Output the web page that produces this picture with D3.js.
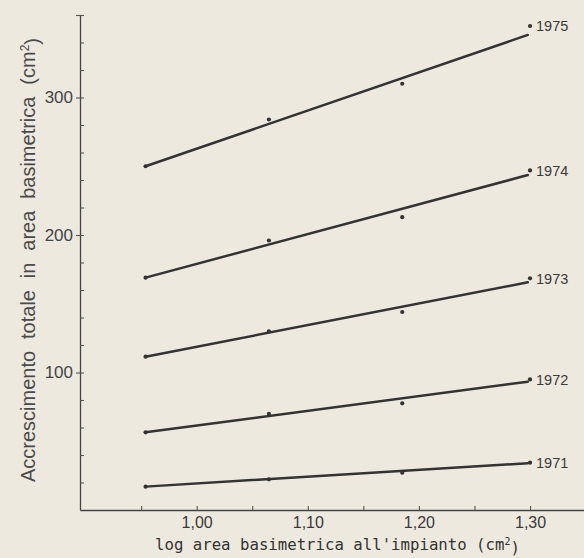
<!DOCTYPE html>
<html>
<head>
<meta charset="utf-8">
<script src="https://cdn.jsdelivr.net/npm/d3@7"></script>
<style>
  body { margin: 0; background: #eee9df; }
  svg { display: block; }
</style>
</head>
<body>
<div id="chart"></div>
<script>
// log of basal area at planting (x) for the four size classes
const logArea = [0.954, 1.065, 1.185, 1.30];
const years = [1975, 1974, 1973, 1972, 1971];

// cumulative basal area growth (cm2) per year, one value per size class
const growth1975 = [250, 284, 310, 352];
const growth1974 = [169, 196, 213, 247];
const growth1973 = [111.5, 130, 144, 168.5];
const growth1972 = [56.5, 70, 77.6, 95];
const growth1971 = [17, 22.3, 27.1, 34.4];

// fitted straight lines, read at both ends
const fitX = [0.954, 1.298];
const fitStart = [250, 169, 111.5, 56.5, 17];
const fitEnd = [345.5, 243.6, 165.6, 93.3, 34];

const xTicks = [0.95, 1.00, 1.05, 1.10, 1.15, 1.20, 1.25, 1.30];
const xLabelled = [1.00, 1.10, 1.20, 1.30];
const yTicks = d3.range(20, 361, 20);
const yLabelled = [100, 200, 300];

const series = [growth1975, growth1974, growth1973, growth1972, growth1971];

const width = 584, height = 558;
const ink = "#333";

const svg = d3.select("#chart").append("svg")
    .attr("width", width)
    .attr("height", height);

svg.append("rect")
    .attr("width", width)
    .attr("height", height)
    .attr("fill", "#eee9df");

const x = d3.scaleLinear().domain([0.895, 1.35]).range([80, 585.6]);
const y = d3.scaleLinear().domain([0, 360]).range([510, 15]);

const comma = d3.formatLocale({ decimal: ",", thousands: ".", grouping: [3], currency: ["", ""] }).format(".2f");

// x axis, ticks pointing up into the plot
const xAxis = svg.append("g")
    .attr("transform", `translate(0,${y(0)})`)
    .call(d3.axisBottom(x)
        .tickValues(xTicks)
        .tickSize(-4)
        .tickSizeOuter(0)
        .tickPadding(7)
        .tickFormat(d => xLabelled.some(v => Math.abs(v - d) < 1e-9) ? comma(d) : ""));
xAxis.select(".domain").attr("stroke", "#444").attr("stroke-width", 1.3);
xAxis.selectAll(".tick line").attr("stroke", "#555").attr("stroke-width", 1.1);
xAxis.selectAll("text")
    .style("font-family", "'Liberation Sans', Arial, sans-serif")
    .style("font-size", "16px")
    .attr("fill", "#3a3a3a");

// y axis, small ticks inside, labelled ticks crossing the line
const yAxis = svg.append("g")
    .attr("transform", `translate(${x(0.895)},0)`)
    .call(d3.axisLeft(y)
        .tickValues(yTicks)
        .tickSize(-4)
        .tickSizeOuter(0)
        .tickPadding(7)
        .tickFormat(d => yLabelled.includes(d) ? d : ""));
yAxis.select(".domain").attr("stroke", "#444").attr("stroke-width", 1.3);
yAxis.selectAll(".tick line").attr("stroke", "#555").attr("stroke-width", 1.1);
yAxis.selectAll(".tick")
    .filter(d => yLabelled.includes(d) || d === 360)
    .append("line")
    .attr("x1", -4).attr("x2", 0)
    .attr("stroke", "#555").attr("stroke-width", 1.1);
yAxis.selectAll("text")
    .style("font-family", "'Liberation Sans', Arial, sans-serif")
    .style("font-size", "17px")
    .attr("fill", "#444");

// regression lines
svg.append("g").selectAll("line")
    .data(years)
    .join("line")
    .attr("x1", x(fitX[0]))
    .attr("x2", x(fitX[1]))
    .attr("y1", (d, i) => y(fitStart[i]))
    .attr("y2", (d, i) => y(fitEnd[i]))
    .attr("stroke", ink)
    .attr("stroke-width", 2.5)
    .attr("stroke-linecap", "round");

// observed points
const points = series.flatMap((vals, i) => vals.map((v, j) => ({ year: years[i], x: logArea[j], y: v })));
svg.append("g").selectAll("circle")
    .data(points)
    .join("circle")
    .attr("cx", d => x(d.x))
    .attr("cy", d => y(d.y))
    .attr("r", 2.1)
    .attr("fill", ink);

// year labels next to the last point
svg.append("g").selectAll("text")
    .data(years)
    .join("text")
    .attr("x", (d, i) => x(logArea[3]) + 6)
    .attr("y", (d, i) => y(series[i][3]))
    .attr("dy", "0.36em")
    .style("font-family", "'Liberation Sans', Arial, sans-serif")
    .style("font-size", "14.5px")
    .attr("fill", "#3a3a3a")
    .text(d => d);

// x title
const xTitle = svg.append("text")
    .attr("x", 155)
    .attr("y", 550)
    .style("font-family", "'DejaVu Sans Mono', monospace")
    .style("font-size", "15.7px")
    .attr("fill", "#333");
xTitle.append("tspan").text("log area basimetrica all'impianto (cm");
xTitle.append("tspan").attr("dy", "-0.5em").style("font-size", "10px").text("2");
xTitle.append("tspan").attr("dy", "0.5em").text(")");

// y title, rotated, running from the foot of the axis to the top
const yTitle = svg.append("text")
    .attr("transform", "translate(35,482) rotate(-90)")
    .style("font-family", "'Liberation Sans', Arial, sans-serif")
    .style("font-size", "20px")
    .attr("fill", "#4a4a4a");
yTitle.append("tspan").text("Accrescimento totale in area basimetrica (cm");
yTitle.append("tspan").attr("dy", "-0.5em").style("font-size", "12px").text("2");
yTitle.append("tspan").attr("dy", "0.5em").text(")");

// open the word gaps a little so the title fills the axis height
const wanted = 444;
const natural = yTitle.node().getComputedTextLength();
yTitle.style("word-spacing", Math.max(0, (wanted - natural) / 5) + "px");
</script>
</body>
</html>
